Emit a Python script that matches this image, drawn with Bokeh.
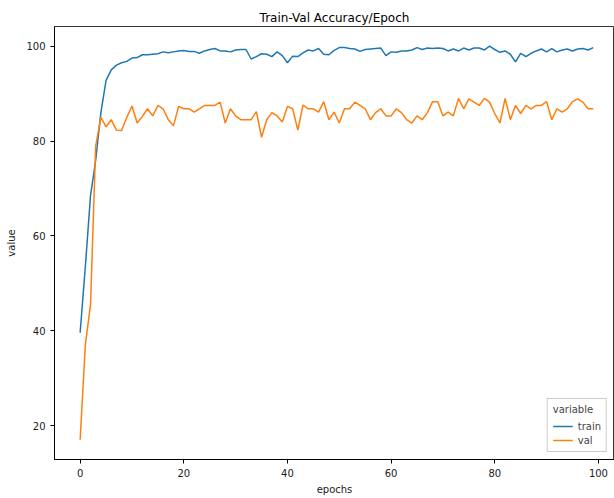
from bokeh.plotting import figure
from bokeh.models import Range1d, FixedTicker, Legend, LegendItem
from bokeh.embed import file_html
from bokeh.resources import INLINE

epochs = list(range(100))
train = [39.6, 53.5, 68.5, 76.0, 86.0, 92.8, 95.0, 96.0, 96.5, 96.8,
         97.5, 97.6, 98.2, 98.2, 98.3, 98.4, 98.8, 98.6, 98.8, 99.0,
         99.1, 98.9, 98.9, 98.5, 99.0, 99.3, 99.5, 99.0, 99.0, 98.8,
         99.2, 99.3, 99.3, 97.3, 97.8, 98.4, 98.3, 97.8, 98.8, 98.0,
         96.5, 97.9, 97.8, 98.6, 99.2, 99.0, 99.5, 98.3, 98.2, 99.1,
         99.7, 99.7, 99.5, 99.4, 98.9, 99.3, 99.4, 99.5, 99.6, 98.0,
         98.8, 98.7, 99.0, 99.0, 99.2, 99.7, 99.3, 99.6, 99.5, 99.6,
         99.5, 99.0, 99.4, 99.0, 99.6, 99.2, 99.6, 99.6, 99.2, 100.0,
         99.3, 98.7, 99.0, 98.3, 96.7, 98.5, 97.8, 98.5, 99.0, 99.4,
         98.8, 99.5, 98.8, 99.2, 99.4, 99.0, 99.4, 99.5, 99.2, 99.7]
val = [17.0, 37.0, 45.5, 79.0, 85.0, 83.0, 84.5, 82.3, 82.2, 85.0,
       87.4, 83.8, 85.2, 86.8, 85.3, 87.5, 86.8, 84.5, 83.2, 87.3,
       86.8, 86.8, 86.1, 86.8, 87.5, 87.5, 87.5, 88.2, 83.8, 86.8,
       85.3, 84.5, 84.5, 84.5, 86.2, 80.8, 84.5, 86.0, 85.3, 84.0,
       87.3, 86.8, 82.3, 87.6, 86.8, 86.8, 86.1, 88.3, 84.5, 86.1,
       83.8, 86.8, 86.8, 88.2, 87.5, 86.8, 84.5, 86.0, 86.8, 85.3,
       85.3, 86.8, 86.0, 84.5, 83.8, 85.3, 84.5, 86.0, 88.3, 88.3,
       85.3, 86.1, 85.3, 89.0, 86.8, 88.9, 88.2, 87.5, 89.0, 88.2,
       85.8, 83.8, 89.0, 84.5, 87.5, 85.8, 87.5, 86.8, 87.5, 87.5,
       88.3, 84.5, 86.8, 86.1, 86.8, 88.3, 88.9, 87.5, 88.2, 86.8]
val[97:] = [88.2, 86.8, 86.8]
x_ticks = [0, 20, 40, 60, 80, 100]
y_ticks = [20, 40, 60, 80, 100]

p = figure(width=614, height=498, output_backend="svg", toolbar_location=None,
           x_range=Range1d(-4.95, 103.1), y_range=Range1d(12.85, 104.15),
           title="Train-Val Accuracy/Epoch",
           min_border_left=54, min_border_right=0, min_border_bottom=39, min_border_top=26)

p.title.align = "center"
p.title.text_font = "DejaVu Sans"
p.title.text_font_size = "12px"
p.title.text_font_style = "normal"
p.title.text_color = "#000000"
p.title.standoff = 4

p.xgrid.visible = False
p.ygrid.visible = False
p.outline_line_color = "#000000"
p.outline_line_width = 0.8

for ax in (p.xaxis[0], p.yaxis[0]):
    ax.minor_tick_line_color = None
    ax.major_tick_out = 4
    ax.major_tick_in = 0
    ax.major_tick_line_color = "#000000"
    ax.axis_line_color = "#000000"
    ax.major_label_text_font = "DejaVu Sans"
    ax.major_label_text_font_size = "10px"
    ax.major_label_text_color = "#222222"
    ax.axis_label_text_font = "DejaVu Sans"
    ax.axis_label_text_font_size = "10px"
    ax.axis_label_text_font_style = "normal"
    ax.axis_label_text_color = "#222222"

p.xaxis.ticker = FixedTicker(ticks=x_ticks)
p.yaxis.ticker = FixedTicker(ticks=y_ticks)
p.xaxis.axis_label = "epochs"
p.yaxis.axis_label = "value"
p.xaxis.axis_label_standoff = 4
p.yaxis.axis_label_standoff = 6

r1 = p.line(epochs, train, line_color="#1f77b4", line_width=1.5)
r2 = p.line(epochs, val, line_color="#ff7f0e", line_width=1.5)

legend = Legend(items=[LegendItem(label="train", renderers=[r1]),
                       LegendItem(label="val", renderers=[r2])],
                location="bottom_right", title="variable")
legend.title_text_font = "DejaVu Sans"
legend.title_text_font_size = "10px"
legend.title_text_font_style = "normal"
legend.label_text_font = "DejaVu Sans"
legend.label_text_font_size = "10px"
legend.border_line_color = "#cccccc"
legend.border_line_alpha = 1
legend.background_fill_alpha = 0.8
legend.glyph_width = 20
legend.glyph_height = 12
legend.label_height = 12
legend.spacing = 2
legend.padding = 5
legend.margin = 7
p.add_layout(legend)

open("out.html", "w").write(file_html(p, INLINE))
